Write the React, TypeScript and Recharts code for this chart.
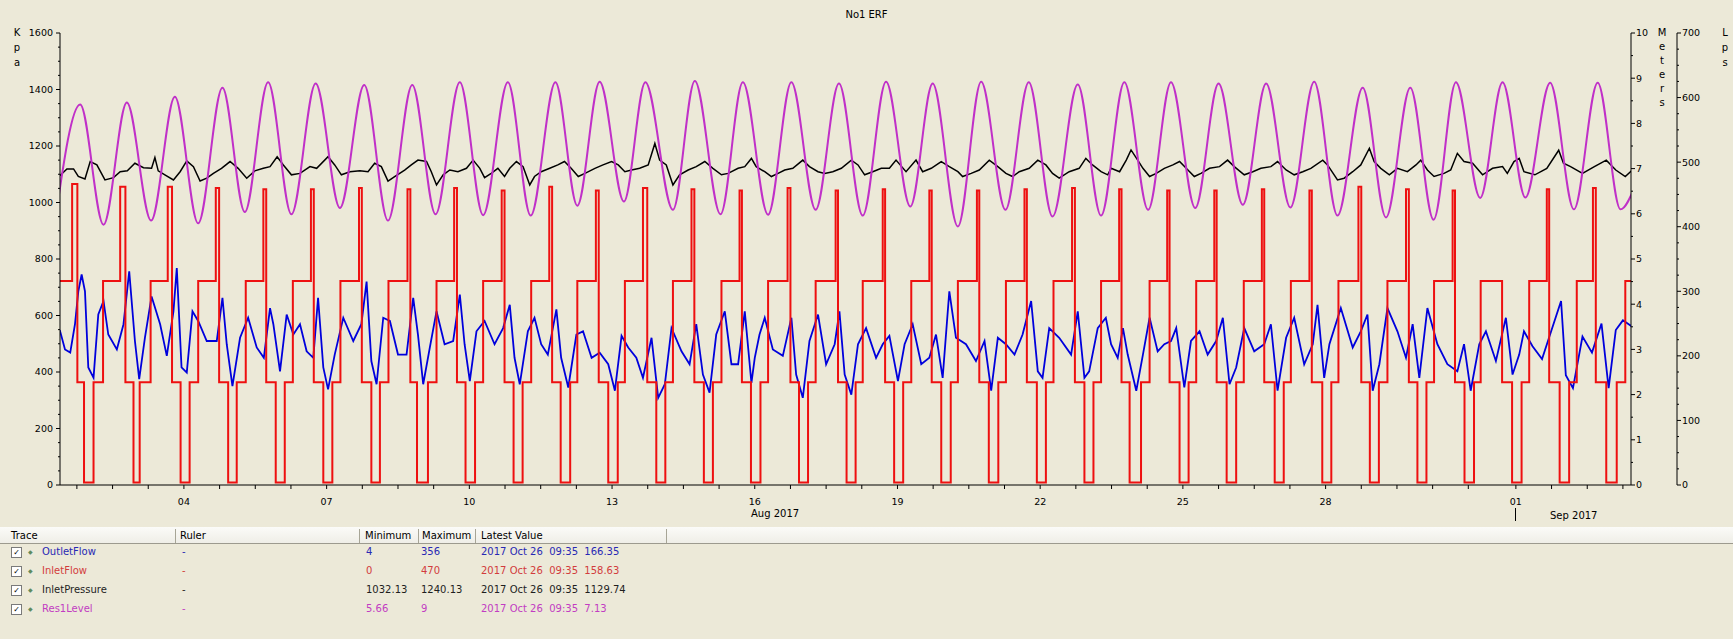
import React from 'react'
import { ComposedChart, Line, XAxis, YAxis } from 'recharts'

const FONT = '"DejaVu Sans", Verdana, sans-serif'
const BG = '#ECE9D8'

// x is the day of August 2017 (32 = 1 Sep)
const dayTicks = [
  1.75, 2.5, 3.25, 4, 4.75, 5.5, 6.25, 7, 7.75, 8.5, 9.25, 10, 10.75, 11.5, 12.25, 13, 13.75,
  14.5, 15.25, 16, 16.75, 17.5, 18.25, 19, 19.75, 20.5, 21.25, 22, 22.75, 23.5, 24.25, 25,
  25.75, 26.5, 27.25, 28, 28.75, 29.5, 30.25, 31, 32, 32.75, 33.5, 34.25,
]
const dayLabels: Record<number, string> = {
  4: '04', 7: '07', 10: '10', 13: '13', 16: '16', 19: '19', 22: '22', 25: '25', 28: '28', 32: '01',
}
const kpaTicks = [
  0, 50, 100, 150, 200, 250, 300, 350, 400, 450, 500, 550, 600, 650, 700, 750, 800, 850, 900,
  950, 1000, 1050, 1100, 1150, 1200, 1250, 1300, 1350, 1400, 1450, 1500, 1550, 1600,
]
const meterTicks = [0, 0.5, 1, 1.5, 2, 2.5, 3, 3.5, 4, 4.5, 5, 5.5, 6, 6.5, 7, 7.5, 8, 8.5, 9, 9.5, 10]
const lpsTicks = [
  0, 25, 50, 75, 100, 125, 150, 175, 200, 225, 250, 275, 300, 325, 350, 375, 400, 425, 450,
  475, 500, 525, 550, 575, 600, 625, 650, 675, 700,
]

// Res1Level, metres: peaks and troughs
const res1Level: [number, number][] = [
  [1.3, 5.9], [1.82, 8.42], [2.31, 5.76], [2.8, 8.46], [3.31, 5.85], [3.81, 8.59], [4.3, 5.79],
  [4.81, 8.79], [5.28, 6.04], [5.77, 8.91], [6.26, 5.99], [6.77, 8.88], [7.28, 6.13], [7.79, 8.85],
  [8.29, 5.85], [8.8, 8.85], [9.29, 5.99], [9.8, 8.91], [10.29, 5.97], [10.81, 8.91], [11.29, 5.96],
  [11.81, 8.91], [12.27, 6.18], [12.74, 8.92], [13.25, 6.27], [13.7, 8.91], [14.28, 6.09],
  [14.74, 8.94], [15.28, 5.99], [15.75, 8.91], [16.28, 5.98], [16.77, 8.91], [17.28, 6.09],
  [17.77, 8.88], [18.27, 5.96], [18.76, 8.92], [19.27, 6.16], [19.74, 8.88], [20.27, 5.72],
  [20.76, 8.92], [21.27, 6.09], [21.76, 8.91], [22.26, 5.94], [22.79, 8.86], [23.28, 5.96],
  [23.77, 8.91], [24.27, 6.09], [24.75, 8.91], [25.26, 6.13], [25.75, 8.88], [26.26, 6.2],
  [26.75, 8.88], [27.26, 6.14], [27.76, 8.92], [28.25, 5.96], [28.78, 8.79], [29.27, 5.92],
  [29.78, 8.79], [30.27, 5.87], [30.74, 8.91], [31.25, 6.35], [31.72, 8.91], [32.2, 6.36],
  [32.72, 8.9], [33.22, 6.1], [33.72, 8.9], [34.2, 6.1], [34.5, 6.6],
]

// InletPressure, Kpa
const inletPressure: [number, number][] = [
  [1.39, 1095], [1.54, 1119], [1.68, 1119], [1.78, 1092], [1.92, 1083], [2.03, 1145], [2.17, 1133],
  [2.34, 1080], [2.52, 1088], [2.66, 1109], [2.81, 1112], [2.97, 1139], [3.15, 1123], [3.32, 1121],
  [3.39, 1159], [3.46, 1112], [3.6, 1098], [3.78, 1080], [3.92, 1109], [4.06, 1147], [4.2, 1127],
  [4.34, 1076], [4.48, 1086], [4.62, 1103], [4.79, 1121], [4.97, 1145], [5.14, 1121], [5.32, 1086],
  [5.49, 1112], [5.67, 1121], [5.81, 1127], [5.96, 1162], [6.09, 1133], [6.26, 1098], [6.44, 1103],
  [6.65, 1127], [6.79, 1121], [7.03, 1162], [7.17, 1133], [7.31, 1098], [7.49, 1109], [7.7, 1112],
  [7.87, 1109], [8.01, 1139], [8.15, 1127], [8.29, 1076], [8.43, 1092], [8.64, 1115], [8.78, 1133],
  [8.92, 1150], [9.1, 1145], [9.2, 1109], [9.31, 1062], [9.45, 1098], [9.59, 1115], [9.76, 1109],
  [9.94, 1121], [10.08, 1150], [10.22, 1121], [10.32, 1088], [10.46, 1103], [10.6, 1121],
  [10.74, 1092], [10.85, 1121], [10.99, 1145], [11.13, 1127], [11.27, 1062], [11.37, 1092],
  [11.51, 1109], [11.69, 1121], [11.86, 1133], [12.0, 1145], [12.14, 1121], [12.29, 1092],
  [12.43, 1103], [12.64, 1121], [12.81, 1133], [12.99, 1145], [13.13, 1133], [13.27, 1109],
  [13.41, 1115], [13.58, 1121], [13.76, 1133], [13.9, 1209], [14.0, 1150], [14.14, 1133],
  [14.28, 1062], [14.42, 1098], [14.6, 1115], [14.77, 1127], [14.95, 1145], [15.12, 1121],
  [15.3, 1098], [15.44, 1103], [15.65, 1121], [15.79, 1127], [15.93, 1156], [16.03, 1127],
  [16.21, 1109], [16.35, 1092], [16.49, 1103], [16.63, 1115], [16.8, 1121], [17.01, 1150],
  [17.15, 1127], [17.33, 1109], [17.47, 1103], [17.64, 1109], [17.82, 1121], [18.03, 1150],
  [18.17, 1133], [18.31, 1098], [18.48, 1109], [18.66, 1121], [18.83, 1121], [18.97, 1150],
  [19.18, 1109], [19.39, 1150], [19.53, 1109], [19.71, 1121], [19.92, 1145], [20.09, 1127],
  [20.27, 1109], [20.37, 1092], [20.55, 1103], [20.72, 1115], [20.93, 1150], [21.11, 1127],
  [21.28, 1103], [21.42, 1092], [21.56, 1109], [21.77, 1121], [21.95, 1150], [22.12, 1133],
  [22.26, 1103], [22.4, 1086], [22.61, 1109], [22.82, 1121], [22.96, 1156], [23.1, 1133],
  [23.28, 1109], [23.42, 1098], [23.49, 1121], [23.67, 1109], [23.81, 1150], [23.91, 1186],
  [24.05, 1150], [24.16, 1121], [24.3, 1092], [24.44, 1103], [24.61, 1121], [24.79, 1133],
  [24.93, 1145], [25.07, 1121], [25.24, 1092], [25.38, 1103], [25.56, 1121], [25.77, 1127],
  [25.94, 1150], [26.08, 1127], [26.29, 1098], [26.47, 1109], [26.64, 1121], [26.85, 1127],
  [26.99, 1145], [27.17, 1115], [27.34, 1098], [27.52, 1109], [27.69, 1121], [27.94, 1150],
  [28.04, 1133], [28.25, 1080], [28.39, 1086], [28.57, 1109], [28.74, 1133], [28.92, 1192],
  [29.02, 1145], [29.16, 1121], [29.34, 1098], [29.51, 1121], [29.72, 1109], [29.9, 1133],
  [30.0, 1150], [30.14, 1115], [30.28, 1092], [30.49, 1103], [30.63, 1115], [30.77, 1174],
  [30.91, 1145], [31.09, 1139], [31.3, 1098], [31.51, 1121], [31.72, 1127], [31.82, 1103],
  [31.96, 1145], [32.07, 1156], [32.17, 1109], [32.4, 1098], [32.65, 1121], [32.9, 1185],
  [33.0, 1139], [33.15, 1127], [33.4, 1103], [33.65, 1127], [33.9, 1150], [34.1, 1115],
  [34.3, 1092], [34.45, 1115],
]

// OutletFlow, Lps
const outletFlow: [number, number][] = [
  [1.39, 240], [1.5, 210], [1.61, 205], [1.71, 249], [1.78, 300], [1.85, 326], [1.92, 300],
  [1.99, 182], [2.1, 166], [2.2, 264], [2.31, 285], [2.41, 233], [2.59, 210], [2.73, 249],
  [2.85, 331], [2.97, 223], [3.06, 164], [3.18, 228], [3.32, 292], [3.5, 249], [3.64, 200],
  [3.78, 269], [3.85, 336], [3.95, 182], [4.06, 174], [4.18, 269], [4.3, 254], [4.48, 223],
  [4.69, 223], [4.81, 290], [4.9, 218], [5.02, 153], [5.18, 228], [5.35, 259], [5.53, 213],
  [5.68, 197], [5.81, 274], [5.88, 249], [6.02, 176], [6.16, 264], [6.3, 233], [6.44, 249],
  [6.58, 207], [6.72, 197], [6.82, 290], [6.93, 182], [7.03, 148], [7.17, 202], [7.35, 259],
  [7.56, 223], [7.73, 249], [7.84, 315], [7.94, 192], [8.05, 156], [8.19, 259], [8.33, 254],
  [8.5, 202], [8.68, 202], [8.82, 290], [8.92, 233], [9.03, 156], [9.17, 213], [9.31, 269],
  [9.48, 218], [9.66, 223], [9.8, 295], [9.9, 218], [10.01, 161], [10.15, 238], [10.32, 254],
  [10.53, 218], [10.71, 243], [10.85, 279], [10.95, 197], [11.06, 156], [11.23, 238],
  [11.37, 259], [11.51, 218], [11.65, 202], [11.83, 272], [11.93, 197], [12.08, 151],
  [12.25, 233], [12.39, 238], [12.57, 197], [12.74, 205], [12.92, 187], [13.06, 146],
  [13.2, 231], [13.34, 213], [13.51, 197], [13.65, 166], [13.83, 228], [13.97, 135],
  [14.11, 156], [14.25, 243], [14.46, 207], [14.63, 187], [14.77, 249], [14.91, 171],
  [15.05, 143], [15.19, 233], [15.37, 269], [15.51, 187], [15.65, 187], [15.79, 269],
  [15.93, 158], [16.0, 197], [16.1, 233], [16.21, 259], [16.38, 210], [16.59, 200], [16.77, 259],
  [16.87, 171], [17.01, 135], [17.15, 223], [17.33, 264], [17.5, 187], [17.68, 218], [17.78, 269],
  [17.89, 171], [18.03, 140], [18.17, 218], [18.34, 243], [18.55, 197], [18.69, 218],
  [18.83, 231], [19.01, 161], [19.15, 218], [19.32, 249], [19.5, 187], [19.67, 197], [19.81, 233],
  [19.95, 166], [20.09, 300], [20.23, 228], [20.44, 218], [20.65, 192], [20.83, 223],
  [20.97, 146], [21.11, 228], [21.28, 218], [21.46, 202], [21.63, 233], [21.81, 285],
  [21.95, 176], [22.05, 166], [22.19, 243], [22.4, 228], [22.65, 202], [22.79, 269], [22.93, 166],
  [23.03, 176], [23.21, 243], [23.38, 259], [23.49, 218], [23.63, 197], [23.74, 243], [23.84, 202],
  [24.02, 146], [24.16, 202], [24.3, 259], [24.47, 207], [24.61, 218], [24.75, 223], [24.86, 243],
  [25.03, 151], [25.17, 223], [25.35, 238], [25.52, 202], [25.7, 223], [25.84, 259], [25.98, 156],
  [26.12, 182], [26.29, 243], [26.5, 207], [26.71, 218], [26.85, 249], [26.99, 146], [27.17, 228],
  [27.34, 259], [27.55, 187], [27.73, 218], [27.83, 279], [27.97, 166], [28.08, 218], [28.32, 274],
  [28.57, 213], [28.74, 238], [28.88, 264], [28.99, 146], [29.13, 187], [29.3, 274], [29.51, 238],
  [29.69, 197], [29.83, 249], [29.97, 166], [30.14, 274], [30.35, 218], [30.56, 187], [30.77, 176],
  [30.91, 218], [31.05, 146], [31.23, 218], [31.37, 238], [31.58, 192], [31.79, 259], [31.93, 171],
  [32.07, 202], [32.17, 238], [32.35, 215], [32.55, 195], [32.75, 240], [32.95, 285], [33.05, 170],
  [33.2, 150], [33.4, 230], [33.6, 205], [33.8, 250], [33.95, 150], [34.1, 240], [34.25, 255],
  [34.45, 245],
]

// InletFlow pump cycles, Lps: spike, short low step, off, low step, main plateau
const spikeStart = [
  1.65, 2.66, 3.66, 4.67, 5.67, 6.67, 7.68, 8.7, 9.68, 10.68, 11.68, 12.66, 13.65, 14.67, 15.68,
  16.69, 17.7, 18.69, 19.67, 20.67, 21.67, 22.67, 23.66, 24.67, 25.66, 26.66, 27.66, 28.69, 29.69,
  30.67, 31.7, 32.65, 33.62,
]
const spikePeak: (number | null)[] = [
  466, 462, 462, 460, 458, 458, 460, 458, 460, 456, 462, 456, 460, 458, 456, 460, 456, 458, 456,
  456, 458, 460, 458, 456, 456, 458, 456, 462, 458, 456, null, 458, 460,
]
const spikeEnd = [
  1.76, 2.77, 3.75, 4.74, 5.73, 6.73, 7.74, 8.76, 9.74, 10.74, 11.74, 12.72, 13.74, 14.73, 15.73,
  16.75, 17.75, 18.74, 19.72, 20.72, 21.72, 22.73, 23.71, 24.72, 25.71, 26.71, 27.71, 28.75, 29.75,
  30.72, 31.71, 32.7, 33.68,
]
const offDay = [
  1.9, 2.94, 3.93, 4.93, 5.93, 6.93, 7.94, 8.9, 9.92, 10.93, 11.92, 12.92, 13.93, 14.93, 15.92,
  16.93, 17.93, 18.93, 19.92, 20.92, 21.93, 22.93, 23.88, 24.93, 25.92, 26.93, 27.93, 28.93, 29.93,
  30.92, 31.92, 32.92, 33.9,
]
const onDay = [
  2.1, 3.07, 4.12, 5.11, 6.12, 7.12, 8.12, 9.13, 10.12, 11.12, 12.12, 13.12, 14.12, 15.12, 16.12,
  17.12, 18.12, 19.12, 20.12, 21.12, 22.12, 23.12, 24.12, 25.12, 26.12, 27.12, 28.12, 29.12, 30.12,
  31.12, 32.12, 33.12, 34.12,
]
const riseDay = [
  2.3, 3.3, 4.3, 5.3, 6.29, 7.29, 8.3, 9.31, 10.29, 11.3, 12.27, 13.27, 14.28, 15.3, 16.28, 17.28,
  18.27, 19.29, 20.27, 21.28, 22.28, 23.28, 24.3, 25.28, 26.28, 27.27, 28.27, 29.3, 30.28, 31.26,
  32.28, 33.28, 34.3,
]
const PLATEAU = 316
const LOW_STEP = 159
const OFF = 4

const inletFlow: { d: number; v: number }[] = [{ d: 1.3, v: PLATEAU }]
spikeStart.forEach((s, i) => {
  const peak = spikePeak[i]
  if (peak !== null) inletFlow.push({ d: s, v: peak })
  inletFlow.push({ d: spikeEnd[i], v: LOW_STEP })
  inletFlow.push({ d: offDay[i], v: OFF })
  inletFlow.push({ d: onDay[i], v: LOW_STEP })
  inletFlow.push({ d: riseDay[i], v: PLATEAU })
})
inletFlow.push({ d: 34.6, v: PLATEAU })

const toRows = (pts: [number, number][]) => pts.map(([d, v]) => ({ d, v }))

const traces = [
  { name: 'OutletFlow', color: '#2828B4', min: '4', max: '356', latest: '2017 Oct 26  09:35  166.35' },
  { name: 'InletFlow', color: '#D23C3C', min: '0', max: '470', latest: '2017 Oct 26  09:35  158.63' },
  { name: 'InletPressure', color: '#1E1E1E', min: '1032.13', max: '1240.13', latest: '2017 Oct 26  09:35  1129.74' },
  { name: 'Res1Level', color: '#C23CC2', min: '5.66', max: '9', latest: '2017 Oct 26  09:35  7.13' },
]

const tickText = { fontSize: 9.5, fontFamily: FONT, fill: '#000' }

function LeftTick({ x, y, payload }: any) {
  const major = payload.value % 200 === 0
  return (
    <g>
      <line x1={x} x2={x - (major ? 4 : 2)} y1={y} y2={y} stroke="#000" />
      {major && (
        <text x={x - 7} y={y} dy={3.4} textAnchor="end" {...tickText}>
          {payload.value}
        </text>
      )}
    </g>
  )
}

function RightTick({ x, y, payload, step }: any) {
  const major = payload.value % step === 0
  return (
    <g>
      <line x1={x} x2={x + (major ? 4 : 2)} y1={y} y2={y} stroke="#000" />
      {major && (
        <text x={x + 5} y={y} dy={3.4} textAnchor="start" {...tickText}>
          {payload.value}
        </text>
      )}
    </g>
  )
}

function BottomTick({ x, y, payload }: any) {
  const label = dayLabels[payload.value]
  return (
    <g>
      <line x1={x} x2={x} y1={y} y2={y + 4} stroke="#000" />
      {label && (
        <text x={x} y={y + 20} textAnchor="middle" {...tickText}>
          {label}
        </text>
      )}
    </g>
  )
}

const abs = (left: number, top: number, extra: React.CSSProperties = {}): React.CSSProperties => ({
  position: 'absolute',
  left,
  top,
  whiteSpace: 'pre',
  lineHeight: '12px',
  ...extra,
})

function VerticalWord({ word, left, top, step }: { word: string; left: number; top: number; step: number }) {
  return (
    <>
      {word.split('').map((ch, i) => (
        <div key={i} style={abs(left - 5, top + i * step - 6, { width: 10, textAlign: 'center' })}>
          {ch}
        </div>
      ))}
    </>
  )
}

export default function App() {
  const cols = [175, 359, 418, 475, 666]
  return (
    <div
      style={{
        position: 'absolute',
        left: 0,
        top: 0,
        width: 1733,
        height: 639,
        background: BG,
        fontFamily: FONT,
        fontSize: 10,
        color: '#000',
        overflow: 'hidden',
      }}
    >
      <div style={abs(0, 9, { width: 1733, textAlign: 'center' })}>No1 ERF</div>
      <VerticalWord word="Kpa" left={17} top={33} step={15} />
      <VerticalWord word="Meters" left={1662} top={33} step={14} />
      <VerticalWord word="Lps" left={1725} top={33} step={15} />

      <div style={{ position: 'absolute', left: 0, top: 0 }}>
        <ComposedChart width={1733} height={530} margin={{ top: 33, right: 0, bottom: 15, left: 0 }}>
          <XAxis
            type="number"
            dataKey="d"
            domain={[1.395, 34.42]}
            allowDataOverflow
            ticks={dayTicks}
            interval={0}
            height={30}
            tickSize={0}
            tickMargin={0}
            tickLine={false}
            axisLine={{ stroke: '#000' }}
            tick={(p: any) => <BottomTick {...p} />}
          />
          <YAxis
            yAxisId="a_kpa"
            orientation="left"
            width={60}
            domain={[0, 1600]}
            ticks={kpaTicks}
            interval={0}
            allowDataOverflow
            tickSize={0}
            tickMargin={0}
            tickLine={false}
            axisLine={{ stroke: '#000' }}
            tick={(p: any) => <LeftTick {...p} />}
          />
          <YAxis
            yAxisId="r1_meters"
            orientation="right"
            width={46}
            domain={[0, 10]}
            ticks={meterTicks}
            interval={0}
            allowDataOverflow
            tickSize={0}
            tickMargin={0}
            tickLine={false}
            axisLine={{ stroke: '#000' }}
            tick={(p: any) => <RightTick {...p} step={1} />}
          />
          <YAxis
            yAxisId="r2_lps"
            orientation="right"
            width={56}
            domain={[0, 700]}
            ticks={lpsTicks}
            interval={0}
            allowDataOverflow
            tickSize={0}
            tickMargin={0}
            tickLine={false}
            axisLine={{ stroke: '#000' }}
            tick={(p: any) => <RightTick {...p} step={100} />}
          />
          <Line
            data={toRows(outletFlow)}
            dataKey="v"
            yAxisId="r2_lps"
            type="linear"
            stroke="#0000DC"
            strokeWidth={1.8}
            dot={false}
            isAnimationActive={false}
          />
          <Line
            data={inletFlow}
            dataKey="v"
            yAxisId="r2_lps"
            type="stepAfter"
            stroke="#EE1010"
            strokeWidth={2}
            dot={false}
            isAnimationActive={false}
          />
          <Line
            data={toRows(inletPressure)}
            dataKey="v"
            yAxisId="a_kpa"
            type="linear"
            stroke="#000"
            strokeWidth={1.5}
            dot={false}
            isAnimationActive={false}
          />
          <Line
            data={toRows(res1Level)}
            dataKey="v"
            yAxisId="r1_meters"
            type="monotone"
            stroke="#C030C8"
            strokeWidth={2}
            dot={false}
            isAnimationActive={false}
          />
        </ComposedChart>
      </div>

      <div style={abs(751, 508)}>Aug 2017</div>
      <div style={{ position: 'absolute', left: 1515, top: 508, width: 1, height: 13, background: '#000' }} />
      <div style={abs(1550, 510)}>Sep 2017</div>

      <div
        style={{
          position: 'absolute',
          left: 0,
          top: 527,
          width: 1733,
          height: 16,
          background: 'linear-gradient(#FBFBF8, #EFEEE7)',
          borderBottom: '1px solid #9C9A8E',
        }}
      />
      {cols.map((c) => (
        <div key={c} style={{ position: 'absolute', left: c, top: 529, width: 1, height: 14, background: '#A7A596' }} />
      ))}
      <div style={abs(11, 530)}>Trace</div>
      <div style={abs(180, 530)}>Ruler</div>
      <div style={abs(365, 530)}>Minimum</div>
      <div style={abs(422, 530)}>Maximum</div>
      <div style={abs(481, 530)}>Latest Value</div>

      {traces.map((t, i) => {
        const top = 546 + i * 19
        return (
          <React.Fragment key={t.name}>
            <div
              style={{
                position: 'absolute',
                left: 11,
                top: top + 1,
                width: 9,
                height: 9,
                background: '#fff',
                border: '1px solid #7A7A7A',
                fontSize: 8,
                lineHeight: '9px',
                textAlign: 'center',
              }}
            >
              ✓
            </div>
            <div style={abs(28, top, { fontSize: 6, color: '#5E8A5E' })}>◆</div>
            <div style={abs(42, top, { color: t.color })}>{t.name}</div>
            <div style={abs(182, top, { color: t.color })}>-</div>
            <div style={abs(366, top, { color: t.color })}>{t.min}</div>
            <div style={abs(421, top, { color: t.color })}>{t.max}</div>
            <div style={abs(481, top, { color: t.color })}>{t.latest}</div>
          </React.Fragment>
        )
      })}
    </div>
  )
}
